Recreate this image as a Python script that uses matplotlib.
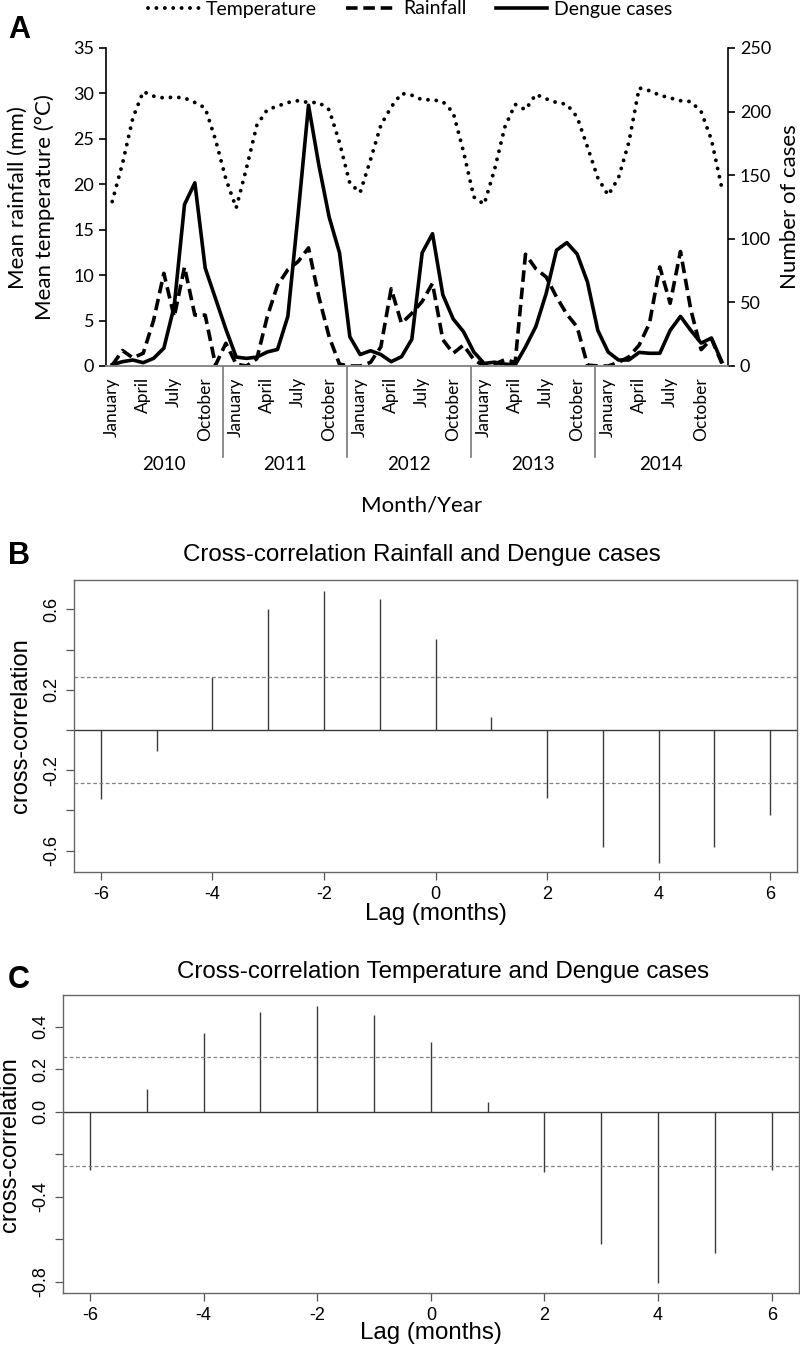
import matplotlib
matplotlib.use('Agg')
import matplotlib.pyplot as plt
import matplotlib.transforms as mtransforms
import numpy as np

# monthly series, January 2010 - December 2014
years = [2010, 2011, 2012, 2013, 2014]
month_labels = ['January', 'April', 'July', 'October']
temperature = [18.1, 22.3, 27.3, 30.2, 29.7, 29.5, 29.6, 29.5, 29.0, 28.4, 24.9, 20.6,
               17.4, 21.8, 26.5, 28.2, 28.6, 29.0, 29.2, 29.0, 29.0, 28.2, 24.6, 20.1,
               19.1, 22.7, 26.5, 28.5, 30.0, 29.8, 29.3, 29.3, 29.1, 27.9, 23.6, 18.6,
               17.8, 21.6, 26.3, 28.8, 28.2, 29.9, 29.4, 29.0, 28.8, 27.4, 24.1, 20.7,
               18.8, 20.7, 24.6, 30.6, 30.3, 29.8, 29.5, 29.2, 29.1, 28.0, 24.9, 19.6]
rainfall = [0.1, 1.7, 0.9, 1.4, 5.0, 10.2, 5.4, 10.9, 5.6, 5.6, 0.1, 2.5,
            0.2, 0.0, 0.8, 5.4, 8.9, 10.6, 11.5, 13.0, 7.6, 3.2, 0.2, 0.0,
            0.0, 0.4, 2.1, 8.5, 4.7, 5.8, 7.1, 9.1, 2.9, 1.4, 2.3, 0.7,
            0.0, 0.2, 0.7, 0.4, 12.3, 10.7, 9.8, 7.6, 5.7, 4.3, 0.1, 0.0,
            0.0, 0.4, 1.0, 2.3, 4.7, 10.9, 6.9, 12.6, 6.2, 1.8, 3.0, 0.3]
dengue = [1, 3.4, 4.7, 2.6, 6, 14, 47, 127, 144, 77, 53, 29,
          7, 6, 7, 11, 13, 39, 120, 205, 158, 117, 89, 23,
          9, 12, 9, 3.4, 7.3, 21, 89, 104, 56, 37, 27, 11,
          2, 3, 1.5, 0.8, 15, 31, 57, 91, 97, 88, 66, 28,
          11, 4.7, 4.7, 10.7, 10, 10, 28, 39, 28, 18, 22, 3.4]

# cross-correlations by lag (months)
lags = list(range(-6, 7))
ccf_rain = [-0.345, -0.103, 0.265, 0.602, 0.693, 0.652, 0.451, 0.063,
            -0.34, -0.58, -0.66, -0.58, -0.423]
ccf_temp = [-0.274, 0.107, 0.369, 0.469, 0.497, 0.455, 0.327, 0.047,
            -0.285, -0.623, -0.805, -0.667, -0.274]
ci_rain = 0.262
ci_temp = 0.258

W, H = 800, 1346
fig = plt.figure(figsize=(W / 100, H / 100), dpi=100)
fontA = 'Lato'
fontR = 'Liberation Sans'


def box(l, t, r, b):
    return [l / W, 1 - b / H, (r - l) / W, (b - t) / H]


# ---------------- panel A ----------------
ax1 = fig.add_axes(box(106, 48, 728, 366))
x = np.arange(len(temperature))
lt, = ax1.plot(x, temperature, color='black', lw=2.8, ls=(0, (0.01, 2.15)),
               dash_capstyle='round', label='Temperature')
lr, = ax1.plot(x, rainfall, color='black', lw=2.6, ls=(0, (3.2, 1.6)), label='Rainfall')
ax2 = ax1.twinx()
ld, = ax2.plot(x, dengue, color='black', lw=2.6, label='Dengue cases')

ax1.set_xlim(-0.6, 59.6)
ax1.set_ylim(0, 35)
ax2.set_ylim(0, 250)
ax1.set_yticks(range(0, 36, 5))
ax2.set_yticks(range(0, 251, 50))
for a in (ax1, ax2):
    a.spines['top'].set_visible(False)
    a.spines['bottom'].set_color('#888888')
    a.spines['bottom'].set_linewidth(1.2)
    a.spines['left'].set_linewidth(1.2)
    a.spines['right'].set_linewidth(1.2)
    a.tick_params(axis='y', direction='out', length=5, width=1.2, labelsize=13)
    for t in a.get_yticklabels():
        t.set_family(fontA)
ax1.spines['right'].set_visible(False)
ax2.spines['left'].set_visible(False)

tick_pos = [12 * k + 3 * m for k in range(len(years)) for m in range(len(month_labels))]
ax1.set_xticks(tick_pos)
ax1.set_xticklabels(month_labels * len(years), rotation=90, va='top', ha='center',
                    fontsize=12.5, family=fontA)
ax1.tick_params(axis='x', length=0, pad=8)

trans = mtransforms.blended_transform_factory(ax1.transData, ax1.transAxes)
bounds = [-0.6] + [12 * k - 1.3 for k in range(1, len(years))] + [59.6]
for b in bounds[1:-1]:
    ax1.plot([b, b], [0, -(457 - 366) / 318], transform=trans, color='#777777',
             lw=1.2, clip_on=False)
for i, yr in enumerate(years):
    ax1.text((bounds[i] + bounds[i + 1]) / 2, -(465 - 366) / 318, str(yr),
             transform=trans, ha='center', va='center', fontsize=13.5, family=fontA)

fig.text(18 / W, 1 - 198 / H, 'Mean rainfall (mm)', rotation=90, ha='center',
         va='center', fontsize=16, family=fontA)
fig.text(45 / W, 1 - 207 / H, 'Mean temperature (°C)', rotation=90, ha='center',
         va='center', fontsize=16, family=fontA)
fig.text(790 / W, 1 - 207 / H, 'Number of cases', rotation=90, ha='center',
         va='center', fontsize=16, family=fontA)
fig.text(422 / W, 1 - 505 / H, 'Month/Year', ha='center', va='center',
         fontsize=16, family=fontA)
fig.legend(handles=[lt, lr, ld], loc='center', bbox_to_anchor=(410 / W, 1 - 9 / H),
           ncol=3, frameon=False, handlelength=2.6, handletextpad=0.36,
           columnspacing=1.5, prop={'family': fontA, 'size': 14})
fig.text(8 / W, 1 - 30 / H, 'A', fontsize=22, fontweight='bold', family=fontR,
         ha='left', va='center')


# ---------------- panels B and C ----------------
def ccf_panel(rect, vals, ci, title, ticks, labelled, ylim, title_xy, xlab_y):
    ax = fig.add_axes(rect)
    ax.vlines(lags, 0, vals, color='#3a3a3a', lw=1.0)
    ax.axhline(0, color='#3a3a3a', lw=1.0)
    for c in (ci, -ci):
        ax.axhline(c, color='#808080', lw=0.9, ls=(0, (3, 2)))
    ax.set_xlim(-6.48, 6.48)
    ax.set_ylim(*ylim)
    ax.set_xticks(range(-6, 7, 2))
    ax.set_xticklabels([str(v) for v in range(-6, 7, 2)], family=fontR, fontsize=13)
    ax.set_yticks(ticks)
    ax.set_yticklabels([f'{t:.1f}' if t in labelled else '' for t in ticks],
                       rotation=90, va='center', family=fontR, fontsize=13)
    ax.tick_params(direction='out', length=6, width=0.9, color='#555555', pad=4)
    for s in ax.spines.values():
        s.set_color('#666666')
        s.set_linewidth(1.0)
    ax.set_ylabel('cross-correlation', family=fontR, fontsize=17, labelpad=8)
    fig.text(title_xy[0] / W, 1 - title_xy[1] / H, title, ha='center', va='center',
             family=fontR, fontsize=17.4)
    fig.text((rect[0] + rect[2] / 2), 1 - xlab_y / H, 'Lag (months)', ha='center',
             va='center', family=fontR, fontsize=17.4)
    return ax


ccf_panel(box(74, 580, 797, 872), ccf_rain, ci_rain,
          'Cross-correlation Rainfall and Dengue cases',
          [-0.6, -0.4, -0.2, 0.0, 0.2, 0.4, 0.6], [-0.6, -0.2, 0.2, 0.6],
          (-0.706, 0.746), (422, 555), 914)
fig.text(8 / W, 1 - 556 / H, 'B', fontsize=22, fontweight='bold', family=fontR,
         ha='left', va='center')

ccf_panel(box(62.7, 995, 799, 1293.3), ccf_temp, ci_temp,
          'Cross-correlation Temperature and Dengue cases',
          [-0.8, -0.6, -0.4, -0.2, 0.0, 0.2, 0.4], [-0.8, -0.4, 0.0, 0.2, 0.4],
          (-0.855, 0.549), (443, 972), 1333)
fig.text(8 / W, 1 - 980 / H, 'C', fontsize=22, fontweight='bold', family=fontR,
         ha='left', va='center')

fig.savefig('out.png', dpi=100)
